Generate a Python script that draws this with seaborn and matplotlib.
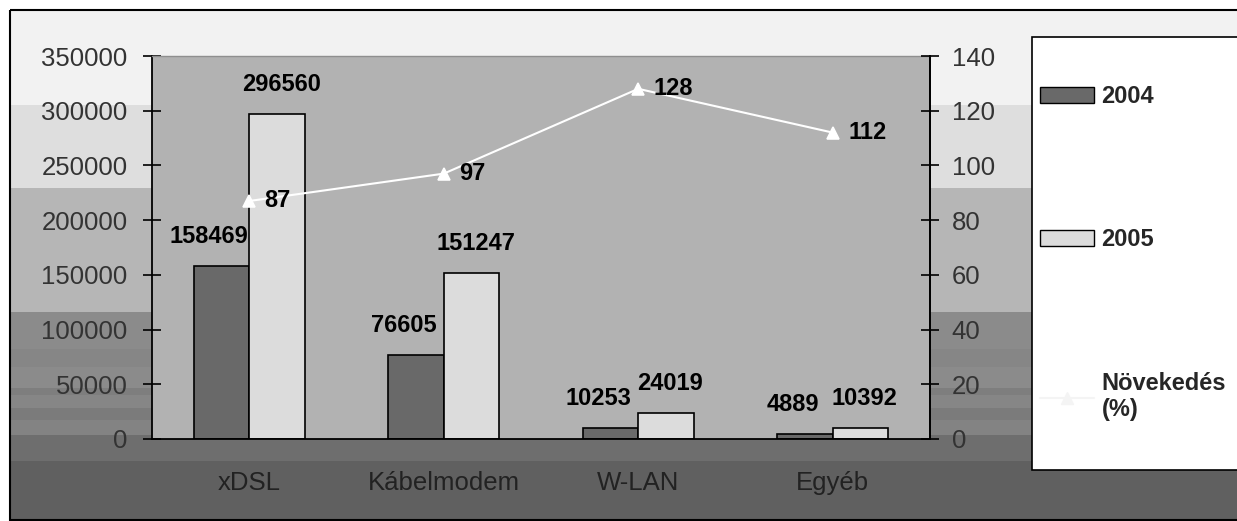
import numpy as np
import pandas as pd
import matplotlib
matplotlib.use("Agg")
import matplotlib.pyplot as plt
from matplotlib.patches import Patch, Rectangle
from matplotlib.lines import Line2D
import seaborn as sns

# data
categories = ["xDSL", "Kábelmodem", "W-LAN", "Egyéb"]
years = ["2004", "2005"]
subs_2004 = [158469, 76605, 10253, 4889]
subs_2005 = [296560, 151247, 24019, 10392]
growth = [87, 97, 128, 112]
growth_label = "Növekedés\n(%)"

left_ticks = [0, 50000, 100000, 150000, 200000, 250000, 300000, 350000]
right_ticks = [0, 20, 40, 60, 80, 100, 120, 140]

df = pd.DataFrame({
    "cat": categories * 2,
    "year": [years[0]] * 4 + [years[1]] * 4,
    "value": subs_2004 + subs_2005,
})

sns.set_style("white")
plt.rcParams["font.family"] = ["Liberation Sans", "DejaVu Sans"]

W, H = 1237, 521
fig = plt.figure(figsize=(W / 100, H / 100), dpi=100, facecolor="white")

# banded grey background of the chart area (pixel coords)
bg = fig.add_axes([0, 0, 1, 1])
bg.set_xlim(0, W)
bg.set_ylim(H, 0)
bg.axis("off")
bands = [(11, 105, "#f2f2f2"), (105, 188, "#dedede"), (188, 312, "#b6b6b6"),
         (312, 349, "#8b8b8b"), (349, 367, "#868686"), (367, 388, "#8b8b8b"),
         (388, 395, "#7e7e7e"), (395, 408, "#868686"), (408, 420, "#7b7b7b"),
         (420, 435, "#838383"), (435, 461, "#6e6e6e"), (461, 520, "#606060")]
for y0, y1, c in bands:
    bg.add_patch(Rectangle((10, y0), W, y1 - y0, facecolor=c, edgecolor="none"))
bg.add_patch(Rectangle((10, 10), W + 20, 510, facecolor="none", edgecolor="black", lw=1.5))

# legend box
bg.add_patch(Rectangle((1032, 37), 260, 433, facecolor="white", edgecolor="black", lw=1.2))

def fx(px):
    return px / W

def fy(py):
    return 1 - py / H

ax = fig.add_axes([fx(152), fy(439), fx(930) - fx(152), fy(56) - fy(439)])
ax.set_facecolor("#b2b2b2")

pal = {"2004": "#696969", "2005": "#dcdcdc"}
sns.barplot(data=df, x="cat", y="value", hue="year", palette=pal, width=0.57,
            edgecolor="black", linewidth=1.2, legend=False, ax=ax)

# value labels above bars (2004 labels sit a bit to the left, 2005 a bit right)
for cont, dx in zip(ax.containers, [-9, 3]):
    for bar in cont:
        h = bar.get_height()
        ax.annotate(f"{h:.0f}", (bar.get_x() + bar.get_width() / 2, h),
                    xytext=(dx, 13), textcoords="offset points", ha="center", va="bottom",
                    fontsize=17, fontweight="bold", color="black")

ax.set_ylim(0, 350000)
ax.set_yticks(left_ticks)
ax.set_yticklabels([str(t) for t in left_ticks])
ax.set_xlim(-0.5, 3.5)
ax.set_xlabel("")
ax.set_ylabel("")
ax.set_xticks([0.5, 1.5, 2.5], minor=True)
ax.tick_params(axis="x", which="major", length=0, pad=23, labelsize=18.5, labelcolor="#222222")
ax.tick_params(axis="x", which="minor", direction="inout", length=13, width=1.2, color="black")
ax.tick_params(axis="y", direction="inout", length=13, width=1.2, color="black",
               pad=11, labelsize=18.5, labelcolor="#333333", left=True)
for s in ["left", "bottom", "right"]:
    ax.spines[s].set_color("black")
    ax.spines[s].set_linewidth(1.3)
ax.spines["top"].set_color("#8f8f8f")
ax.spines["top"].set_linewidth(1)

# growth line on the secondary axis
ax2 = ax.twinx()
sns.pointplot(x=categories, y=growth, color="white", markers="^", linestyles="-",
              errorbar=None, markersize=9, linewidth=1.5, ax=ax2)
ax2.set_ylim(0, 140)
ax2.set_xlim(-0.5, 3.5)
ax2.set_yticks(right_ticks)
ax2.set_yticklabels([str(t) for t in right_ticks])
ax2.set_ylabel("")
ax2.tick_params(axis="y", direction="inout", length=13, width=1.2, color="black",
                pad=9, labelsize=18.5, labelcolor="#333333", right=True)
for s in ax2.spines.values():
    s.set_visible(False)
ax2.spines["right"].set_visible(True)
ax2.spines["right"].set_color("black")
ax2.spines["right"].set_linewidth(1.3)
for i, g in enumerate(growth):
    ax2.annotate(str(g), (i, g), xytext=(11, 0), textcoords="offset points",
                 ha="left", va="center", fontsize=17, fontweight="bold", color="black")

# legend
handles = [Patch(facecolor=pal["2004"], edgecolor="black", lw=1),
           Patch(facecolor=pal["2005"], edgecolor="black", lw=1),
           Line2D([], [], color="#f4f4f4", marker="^", markersize=8, lw=1.5)]
leg = fig.legend(handles, years + [growth_label], loc="upper left",
                 bbox_to_anchor=(fx(1040), fy(85)), frameon=False,
                 prop={"size": 17, "weight": "bold"}, handlelength=2.3,
                 handleheight=0.65, handletextpad=0.3, labelspacing=5.1,
                 borderaxespad=0, borderpad=0)

fig.savefig("out.png", dpi=100, facecolor="white")
